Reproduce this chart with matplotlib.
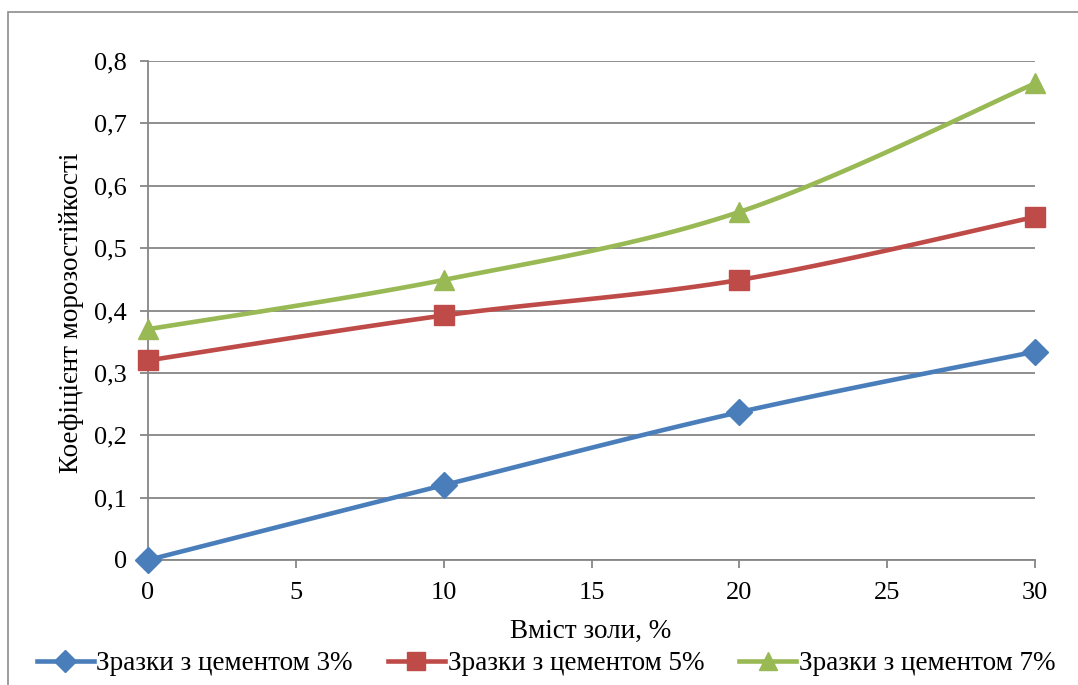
import numpy as np
import matplotlib
matplotlib.use("Agg")
import matplotlib.pyplot as plt
from matplotlib.patches import Rectangle
from matplotlib.lines import Line2D

plt.rcParams['font.family'] = ['Liberation Serif', 'DejaVu Serif']

ash = [0, 10, 20, 30]
cem3 = [0.0, 0.12, 0.237, 0.334]
cem5 = [0.32, 0.392, 0.449, 0.55]
cem7 = [0.37, 0.449, 0.558, 0.764]
series_names = ["Зразки з цементом 3%", "Зразки з цементом 5%", "Зразки з цементом 7%"]
x_ticks = [0, 5, 10, 15, 20, 25, 30]
y_ticks = [0, 0.1, 0.2, 0.3, 0.4, 0.5, 0.6, 0.7, 0.8]
x_label = "Вміст золи, %"
y_label = "Коефіцієнт морозостійкості"

colors = ["#4A7EBB", "#BE4B48", "#98B954"]
markers = ["D", "s", "^"]
msizes = [13, 15, 15]

W, H = 1078, 685
fig = plt.figure(figsize=(W / 100, H / 100), dpi=100)
fig.add_artist(Rectangle((8 / W, -0.05), 1.2, 1 - 12 / H + 0.05, transform=fig.transFigure,
                         fill=False, edgecolor="#8C8C8C", linewidth=1.2))

ax = fig.add_axes([148 / W, 1 - 560 / H, (1035 - 148) / W, (560 - 61) / H])
ax.set_xlim(0, 30)
ax.set_ylim(0, 0.8)


def smooth(xs, ys, n=40):
    xs = np.asarray(xs, float)
    ys = np.asarray(ys, float)
    px = np.concatenate([[xs[0]], xs, [xs[-1]]])
    py = np.concatenate([[ys[0]], ys, [ys[-1]]])
    ox, oy = [], []
    for i in range(1, len(px) - 2):
        p0 = np.array([px[i - 1], py[i - 1]])
        p1 = np.array([px[i], py[i]])
        p2 = np.array([px[i + 1], py[i + 1]])
        p3 = np.array([px[i + 2], py[i + 2]])
        c1 = p1 + (p2 - p0) / 6
        c2 = p2 - (p3 - p1) / 6
        t = np.linspace(0, 1, n)[:, None]
        pts = ((1 - t) ** 3) * p1 + 3 * ((1 - t) ** 2) * t * c1 + 3 * (1 - t) * t ** 2 * c2 + t ** 3 * p2
        ox.extend(pts[:, 0])
        oy.extend(pts[:, 1])
    return ox, oy


for ys, c in zip([cem3, cem5, cem7], colors):
    sx, sy = smooth(ash, ys)
    ax.plot(sx, sy, color=c, lw=3.3, solid_capstyle="round", clip_on=False, zorder=3)
for ys, c, m, ms in zip([cem3, cem5, cem7], colors, markers, msizes):
    ax.plot(ash, ys, linestyle="none", marker=m, markersize=ms, color=c,
            markeredgecolor=c, clip_on=False, zorder=4)

ax.set_xticks(x_ticks)
ax.set_yticks(y_ticks)
ax.set_xticklabels([str(v) for v in x_ticks])
ax.set_yticklabels(["0" if v == 0 else f"{v:.1f}".replace(".", ",") for v in y_ticks])
ax.grid(axis="y", color="#868686", lw=1.3)
ax.set_axisbelow(True)
for s in ["top", "right"]:
    ax.spines[s].set_visible(False)
for s in ["left", "bottom"]:
    ax.spines[s].set_color("#868686")
    ax.spines[s].set_linewidth(1.3)
ax.tick_params(axis="both", direction="out", length=6, width=1.3, color="#868686",
               labelsize=19, labelcolor="black")
ax.tick_params(axis="y", pad=9)
ax.tick_params(axis="x", pad=10)

fig.text(72 / W, 1 - 313 / H, y_label, rotation=90, ha="center", va="center", fontsize=19.5)
fig.text(591 / W, 1 - 631 / H, x_label, ha="center", va="center", fontsize=19.5)

handles = [Line2D([], [], color=c, lw=3.3, marker=m, markersize=ms * 0.85)
           for c, m, ms in zip(colors, markers, msizes)]
fig.legend(handles, series_names, loc="center", bbox_to_anchor=(546 / W, 1 - 664 / H),
           ncol=3, frameon=False, fontsize=19.5, handlelength=2.1, handletextpad=0.1,
           columnspacing=1.3, borderpad=0)

fig.savefig("out.png", dpi=100)
